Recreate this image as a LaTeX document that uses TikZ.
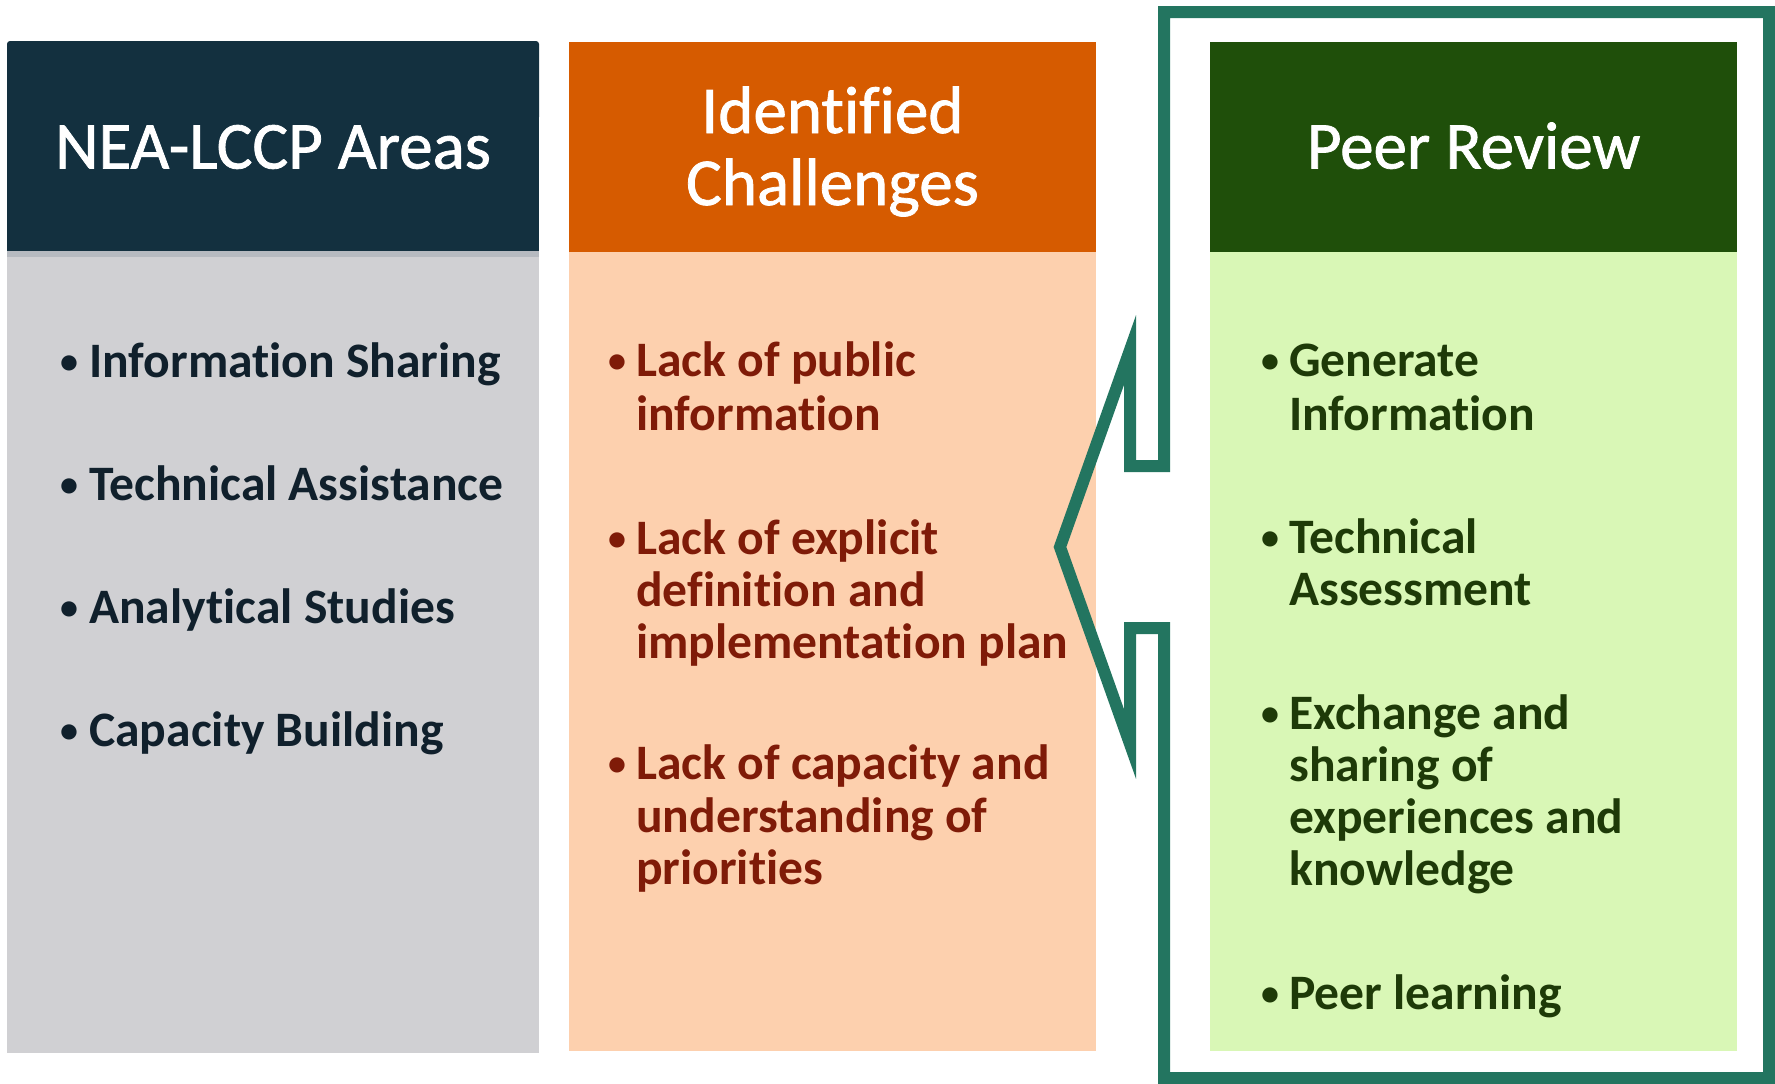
\documentclass[tikz,border=0pt]{standalone}
\usepackage{fontspec}
\setmainfont[Ligatures=NoCommon]{Carlito}
\newfontfamily\hdrfont[FakeBold=1.2,Ligatures=NoCommon]{Carlito}
\definecolor{navy}{HTML}{13303F}
\definecolor{graybody}{HTML}{D0D0D3}
\definecolor{grayshade}{HTML}{B6BAC0}
\definecolor{orangehd}{HTML}{D65B00}
\definecolor{peach}{HTML}{FDD0AE}
\definecolor{greenhd}{HTML}{1F4F0A}
\definecolor{lightgreen}{HTML}{D9F7B6}
\definecolor{framegreen}{HTML}{237560}
\definecolor{navytext}{HTML}{10202C}
\definecolor{redtext}{HTML}{7F1B08}
\definecolor{greentext}{HTML}{1E3A08}
\begin{document}
\begin{tikzpicture}[x=1pt,y=-1pt,
  hdr/.style={font=\hdrfont\fontsize{67}{72}\selectfont, text=white, anchor=base, inner sep=0pt},
  itm/.style={font=\bfseries\fontsize{49.6}{54}\selectfont, anchor=base west, inner sep=0pt},
  bul/.style={font=\bfseries\fontsize{36}{40}\selectfont, anchor=base, inner sep=0pt},
  framepath/.style={draw=framegreen, line width=12pt, line join=miter, miter limit=12}]
\useasboundingbox (0,0) rectangle (1775,1084);
% left column
\fill[graybody] (7,251) rectangle (539,1053);
\fill[navy, rounded corners=3pt] (7,41) rectangle (539,120);
\fill[navy] (7,60) rectangle (539,251);
\fill[grayshade] (7,251) rectangle (539,257);
% middle column
\fill[peach] (569,252) rectangle (1096,1051);
\fill[orangehd] (569,42) rectangle (1096,252);
% right column
\fill[lightgreen] (1210,252) rectangle (1737,1051);
\fill[greenhd] (1210,42) rectangle (1737,252);

% headers
\node[hdr] (h1) at (273,168.5) {NEA-LCCP Areas};
\node[hdr] (h2a) at (832.5,133) {Identified};
\node[hdr] (h2b) at (832.5,205) {Challenges};
\node[hdr] (h3) at (1473.5,168.5) {Peer Review};

% left items
\begin{scope}[every node/.append style={text=navytext}]
\node[bul] (lb1) at (69,373) {•};
\node[itm] (l1) at (89,377) {Information Sharing};
\node[bul] (lb2) at (69,496) {•};
\node[itm] (l2) at (89,500) {Technical Assistance};
\node[bul] (lb3) at (69,619) {•};
\node[itm] (l3) at (89,623) {Analytical Studies};
\node[bul] (lb4) at (69,742) {•};
\node[itm] (l4) at (89,746) {Capacity Building};
\end{scope}

% middle items
\begin{scope}[every node/.append style={text=redtext}]
\node[bul] (mb1) at (617,372) {•};
\node[itm] (m1a) at (636,376) {Lack of public};
\node[itm] (m1b) at (636,430) {information};
\node[bul] (mb2) at (617,550) {•};
\node[itm] (m2a) at (636,554) {Lack of explicit};
\node[itm] (m2b) at (636,606) {definition and};
\node[itm] (m2c) at (636,658) {implementation plan};
\node[bul] (mb3) at (617,775) {•};
\node[itm] (m3a) at (636,779) {Lack of capacity and};
\node[itm] (m3b) at (636,832) {understanding of};
\node[itm] (m3c) at (636,884) {priorities};
\end{scope}

% right items
\begin{scope}[every node/.append style={text=greentext}]
\node[bul] (rb1) at (1270,372) {•};
\node[itm] (r1a) at (1289,376) {Generate};
\node[itm] (r1b) at (1289,430) {Information};
\node[bul] (rb2) at (1270,549) {•};
\node[itm] (r2a) at (1289,553) {Technical};
\node[itm] (r2b) at (1289,605) {Assessment};
\node[bul] (rb3) at (1270,725) {•};
\node[itm] (r3a) at (1289,729) {Exchange and};
\node[itm] (r3b) at (1289,781) {sharing of};
\node[itm] (r3c) at (1289,833) {experiences and};
\node[itm] (r3d) at (1289,885) {knowledge};
\node[bul] (rb4) at (1270,1005) {•};
\node[itm] (r4) at (1289,1009) {Peer learning};
\end{scope}

% callout frame
\draw[framepath] (1164,12) -- (1769,12) -- (1769,1078) -- (1164,1078) -- (1164,628)
  -- (1130,628) -- (1130,744) -- (1060,547) -- (1130,350) -- (1130,466) -- (1164,466) -- cycle;
\end{tikzpicture}
\end{document}
